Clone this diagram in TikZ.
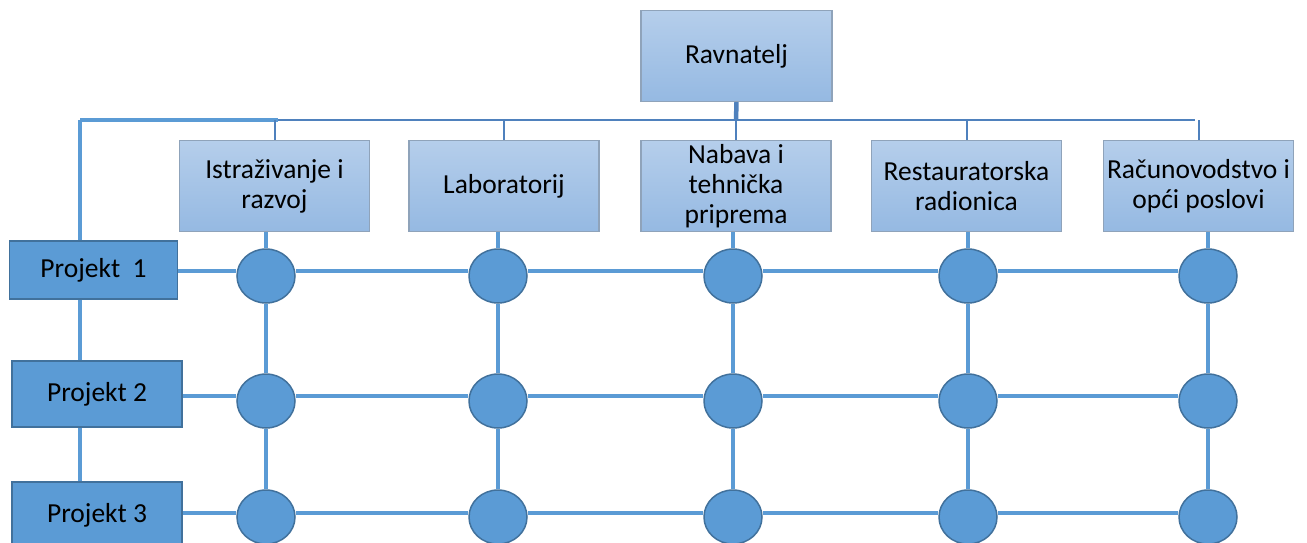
\documentclass[tikz,border=0pt]{standalone}
\usepackage{fontspec}
\setmainfont{Carlito}
\usetikzlibrary{shapes.geometric}
\definecolor{acc}{HTML}{5B9BD5}
\definecolor{accdark}{HTML}{41719C}
\definecolor{topline}{HTML}{4F81BD}
\definecolor{boxtop}{HTML}{B5CEEB}
\definecolor{boxbot}{HTML}{95B9E2}
\definecolor{boxedge}{HTML}{8FA3BA}
\begin{document}
\begin{tikzpicture}[x=1pt,y=-1pt,
  deptbox/.style={draw=boxedge,line width=1.4pt,top color=boxtop,bottom color=boxbot,
    minimum width=190pt,minimum height=91pt,inner sep=0pt,align=center,
    font=\fontsize{27.5}{30}\selectfont},
  projbox/.style={draw=accdark,line width=1.8pt,fill=acc,minimum width=168pt,
    inner sep=0pt,font=\fontsize{27.5}{30}\selectfont},
  dot/.style={ellipse,draw=accdark,line width=1.5pt,fill=acc,minimum width=58pt,
    minimum height=54pt,inner sep=0pt},
  grid/.style={draw=acc,line width=3.2pt},
  thinline/.style={draw=topline,line width=2pt},
]
\useasboundingbox (0,0) rectangle (1307,542);
\clip (0,0) rectangle (1307,542);
\fill[white] (0,0) rectangle (1307,542);

% top
\node[deptbox,minimum width=191pt,minimum height=91pt] (rav) at (736.5,56) {Ravnatelj};
\coordinate (tl) at (80,120);
\coordinate (tr) at (1195,120);
\coordinate (tm) at (736,120);

% departments
\node[deptbox] (d1) at (274.5,186) {Istraživanje i\\razvoj};
\node[deptbox] (d2) at (504,186) {Laboratorij};
\node[deptbox] (d3) at (736,186) {Nabava i\\tehnička\\priprema};
\node[deptbox] (d4) at (966.5,186) {Restauratorska\\radionica};
\node[deptbox] (d5) at (1198.5,186) {Računovodstvo i\\opći poslovi};

% projects
\node[projbox,minimum height=58pt] (p1) at (93.5,270) {Projekt\ \ 1};
\node[projbox,minimum height=66pt,minimum width=170pt] (p2) at (97,394) {Projekt 2};
\node[projbox,minimum height=66pt,minimum width=170pt] (p3) at (97,515) {Projekt 3};

% top lines
\draw[thinline] (tl) -- (tr);
\draw[grid] (tl) -- (278,120);
\draw[draw=topline,line width=4.5pt] (rav.south) -- (tm);
\foreach \d in {d1,d2,d3,d4,d5}{
  \draw[thinline] (\d.north |- tl) -- (\d.north);
}
\draw[grid] (p1.north -| tl) -- (tl);
\draw[grid] (p1.south -| tl) -- (p2.north -| tl);
\draw[grid] (p2.south -| tl) -- (p3.north -| tl);

% circles
\foreach \c/\x in {1/266,2/498,3/733,4/968,5/1208}{
  \node[dot] (r1c\c) at (\x,276) {};
  \node[dot] (r2c\c) at (\x,401) {};
  \node[dot] (r3c\c) at (\x,517) {};
}

% grid lines
\foreach \r/\y in {1/271,2/396,3/513}{
  \draw[grid] (p\r.east |- 0,\y) -- (r\r c1.west |- 0,\y);
  \draw[grid] (r\r c1.east |- 0,\y) -- (r\r c2.west |- 0,\y);
  \draw[grid] (r\r c2.east |- 0,\y) -- (r\r c3.west |- 0,\y);
  \draw[grid] (r\r c3.east |- 0,\y) -- (r\r c4.west |- 0,\y);
  \draw[grid] (r\r c4.east |- 0,\y) -- (r\r c5.west |- 0,\y);
}
\foreach \c in {1,...,5}{
  \draw[grid] (r1c\c.north |- d\c.south) -- (r1c\c.north);
  \draw[grid] (r1c\c.south) -- (r2c\c.north);
  \draw[grid] (r2c\c.south) -- (r3c\c.north);
}
\end{tikzpicture}
\end{document}
